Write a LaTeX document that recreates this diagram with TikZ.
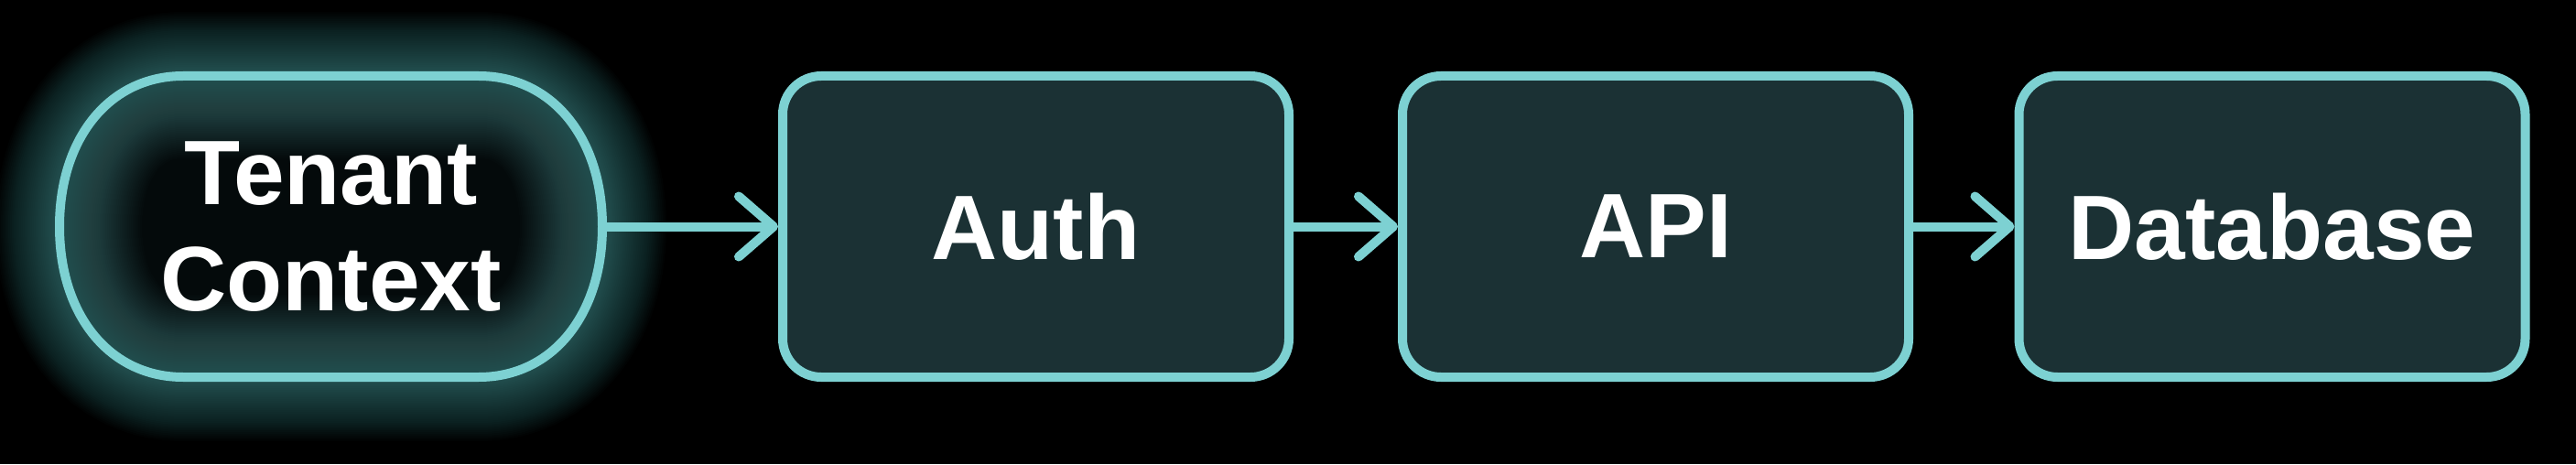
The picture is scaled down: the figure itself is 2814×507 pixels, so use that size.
\documentclass[tikz,border=0pt]{standalone}
\usepackage{fontspec}
\setmainfont{Liberation Sans}
\usetikzlibrary{arrows.meta,backgrounds}
\definecolor{edge}{HTML}{7DD1D2}
\definecolor{boxfill}{HTML}{1B3134}
\definecolor{glowc}{HTML}{5FB8B8}
\definecolor{pillfill}{HTML}{040A0B}
\def\pillpath{(200,424) -- (523,424)
  .. controls (603,424) and (658,356.5) .. (658,259.5)
  .. controls (658,162.5) and (603,95) .. (523,95)
  -- (200,95)
  .. controls (120,95) and (65,162.5) .. (65,259.5)
  .. controls (65,356.5) and (120,424) .. (200,424) -- cycle}
\begin{document}
\begin{tikzpicture}[x=1pt,y=1pt,
  every node/.style={text=white, font=\fontsize{100}{116}\selectfont\bfseries},
  stepbox/.style={draw=edge, line width=10pt, fill=boxfill, rounded corners=42pt,
    minimum width=553pt, minimum height=329pt, inner sep=0pt},
  pill/.style={line width=10pt, minimum width=593pt, minimum height=329pt,
    inner sep=0pt, align=center},
  link/.style={draw=edge, line width=10pt, -{Straight Barb[length=38pt,width=66pt,round]}},
  glowline/.style={draw=glowc}]
\useasboundingbox (0,0) rectangle (2814,507);

\node[pill] (tenant) at (361.5,259.5) {Tenant\\Context};
\node[stepbox] (auth) at (1131.5,259.5) {Auth};
\node[stepbox] (api) at (1808.5,259.5) {API};
\node[stepbox] (db) at (2482,259.5) {Database};

\draw[link] (tenant.east) -- (auth.west);
\draw[link] (auth.east) -- (api.west);
\draw[link] (api.east) -- (db.west);

\begin{scope}[on background layer]
  \fill[black] (0,0) rectangle (2814,507);
  \foreach \w in {4,8,...,140}
    \draw[glowline, opacity=0.018, line width=\w pt] \pillpath;
  \fill[pillfill] \pillpath;
  \begin{scope}
    \clip \pillpath;
    \foreach \w in {4,8,...,180}
      \draw[glowline, opacity=0.014, line width=\w pt] \pillpath;
  \end{scope}
  \draw[edge, line width=10pt] \pillpath;
\end{scope}
\end{tikzpicture}
\end{document}
